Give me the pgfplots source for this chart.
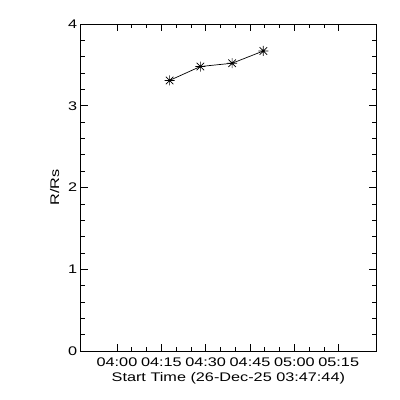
\documentclass[border=0pt]{standalone}
\usepackage{pgfplots}
\pgfplotsset{compat=1.18}
\usepackage{fontspec}
\setmainfont{Liberation Sans}[FakeStretch=1.3]
\pgfdeclareplotmark{idlstar}{%
  \pgfpathmoveto{\pgfqpoint{0pt}{\pgfplotmarksize}}\pgfpathlineto{\pgfqpoint{0pt}{-\pgfplotmarksize}}%
  \pgfpathmoveto{\pgfqpoint{\pgfplotmarksize}{0pt}}\pgfpathlineto{\pgfqpoint{-\pgfplotmarksize}{0pt}}%
  \pgfpathmoveto{\pgfqpoint{0.75\pgfplotmarksize}{0.75\pgfplotmarksize}}\pgfpathlineto{\pgfqpoint{-0.75\pgfplotmarksize}{-0.75\pgfplotmarksize}}%
  \pgfpathmoveto{\pgfqpoint{-0.75\pgfplotmarksize}{0.75\pgfplotmarksize}}\pgfpathlineto{\pgfqpoint{0.75\pgfplotmarksize}{-0.75\pgfplotmarksize}}%
  \pgfusepathqstroke}
\begin{document}
\begin{tikzpicture}[x=1pt,y=1pt]
\path[use as bounding box] (0,0) rectangle (400,400);
\begin{axis}[
  at={(80.7pt,49pt)}, anchor=south west,
  scale only axis, width=295.3pt, height=327pt,
  xmin=-12.27, xmax=87.6, ymin=0, ymax=4,
  xtick={0,15,30,45,60,75},
  xticklabels={04:00,04:15,04:30,04:45,05:00,05:15},
  minor x tick num=2,
  ytick={0,1,2,3,4},
  minor y tick num=4,
  tick align=inside,
  major tick length=7pt, minor tick length=4pt,
  tick style={black, line width=0.7pt},
  axis line style={line width=0.7pt},
  /pgf/number format/assume math mode=true,
  ticklabel style={font=\fontsize{12.5}{14}\selectfont},
  xticklabel style={yshift=-3pt},
  xlabel={Start Time (26-Dec-25 03:47:44)},
  ylabel={R/Rs},
  label style={font=\fontsize{12.5}{14}\selectfont},
  xlabel style={yshift=1pt},
  ylabel style={yshift=2pt},
]
\addplot[black, line width=0.7pt, mark=idlstar, mark size=5pt, mark options={line width=0.7pt}]
  coordinates {(17.8,3.31) (28.2,3.48) (38.95,3.52) (49.5,3.67)};
\end{axis}
\end{tikzpicture}
\end{document}
